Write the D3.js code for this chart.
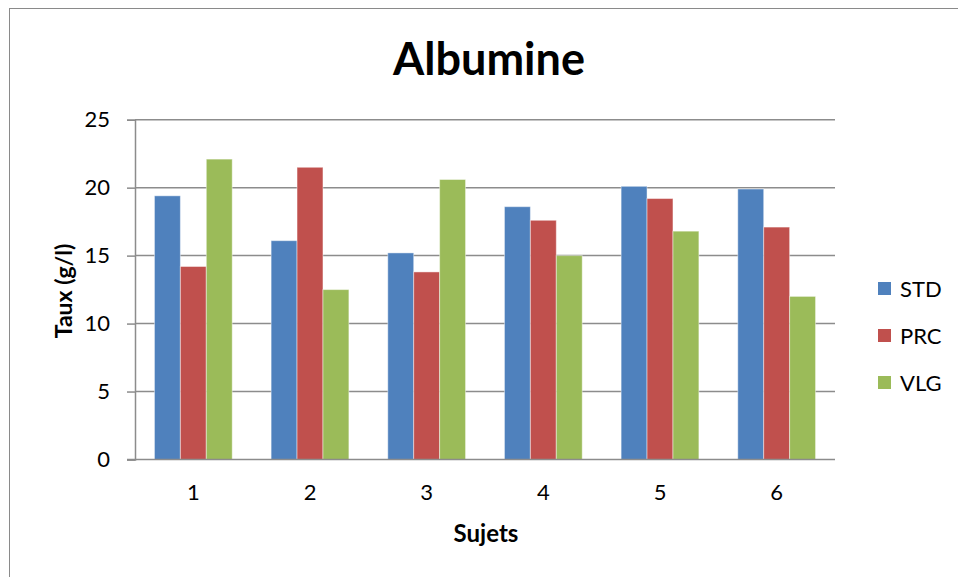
<!DOCTYPE html>
<html>
<head>
<meta charset="utf-8">
<script src="https://cdn.jsdelivr.net/npm/d3@7"></script>
<style>
  html, body { margin: 0; padding: 0; background: #fff; }
  svg { display: block; }
  text { font-family: Lato, "Open Sans", sans-serif; fill: #000; }
</style>
</head>
<body>
<svg id="chart" width="958" height="577"></svg>
<script>
// ---- data ----
const categories = ["1", "2", "3", "4", "5", "6"];
const seriesNames = ["STD", "PRC", "VLG"];
const STD = [19.4, 16.1, 15.2, 18.6, 20.1, 19.9];
const PRC = [14.2, 21.5, 13.8, 17.6, 19.2, 17.1];
const VLG = [22.1, 12.5, 20.6, 15.0, 16.8, 12.0];
const yTicks = [0, 5, 10, 15, 20, 25];
const title = "Albumine";
const xTitle = "Sujets";
const yTitle = "Taux (g/l)";

const seriesValues = { STD, PRC, VLG };
const colors = { STD: "#4F81BD", PRC: "#C0504D", VLG: "#9BBB59" };

const svg = d3.select("#chart");

// outer frame
svg.append("rect")
  .attr("x", 9.5).attr("y", 8.5)
  .attr("width", 1000).attr("height", 700)
  .attr("fill", "#fff").attr("stroke", "#8a8a8a").attr("stroke-width", 1);

const plot = { left: 135, right: 835, top: 119.7, bottom: 459.5 };

const x0 = d3.scaleBand().domain(categories).range([plot.left, plot.right]).padding(0);
const x1 = d3.scaleBand().domain(seriesNames).range([0, x0.bandwidth()])
  .paddingInner(0).paddingOuter(0.75);
const y = d3.scaleLinear().domain([0, 25]).range([plot.bottom, plot.top]);

// gridlines
svg.append("g").selectAll("line").data(yTicks.filter(d => d > 0)).join("line")
  .attr("x1", plot.left).attr("x2", plot.right)
  .attr("y1", d => y(d)).attr("y2", d => y(d))
  .attr("stroke", "#8c8c8c").attr("stroke-width", 1.5);

// bars
const groups = svg.append("g").selectAll("g").data(categories).join("g")
  .attr("transform", d => `translate(${x0(d)},0)`);
groups.selectAll("rect")
  .data((c, i) => seriesNames.map(s => ({ s, v: seriesValues[s][i] })))
  .join("rect")
  .attr("x", d => x1(d.s))
  .attr("width", x1.bandwidth())
  .attr("y", d => y(d.v))
  .attr("height", d => y(0) - y(d.v))
  .attr("fill", d => colors[d.s])
  .attr("stroke", "rgba(255,255,255,0.45)").attr("stroke-width", 1);

// y axis
const yAxis = d3.axisLeft(y).tickValues(yTicks).tickSize(8).tickPadding(17).tickFormat(d3.format("d"));
const gy = svg.append("g").attr("transform", `translate(${plot.left},0)`).call(yAxis);
gy.select(".domain").attr("stroke", "#8c8c8c").attr("stroke-width", 1.5);
gy.selectAll(".tick line").attr("stroke", "#8c8c8c").attr("stroke-width", 1.5);
gy.selectAll(".tick text").style("font-family", "Lato, sans-serif").style("font-size", "22px").attr("fill", "#000");

// x axis
const xAxis = d3.axisBottom(x0).tickSize(0).tickPadding(25);
const gx = svg.append("g").attr("transform", `translate(0,${plot.bottom})`).call(xAxis);
gx.select(".domain").attr("stroke", "#8c8c8c").attr("stroke-width", 1.5)
  .attr("d", `M${plot.left - 8},0H${plot.right}`);
gx.selectAll(".tick text").style("font-family", "Lato, sans-serif").style("font-size", "22px").attr("fill", "#000");

// title
svg.append("text").attr("x", 489).attr("y", 75)
  .attr("text-anchor", "middle")
  .style("font-size", "45px").style("font-weight", "bold")
  .text(title);

// axis titles
svg.append("text").attr("x", 486).attr("y", 542)
  .attr("text-anchor", "middle")
  .style("font-size", "24px").style("font-weight", "bold")
  .text(xTitle);
svg.append("text")
  .attr("transform", "translate(72,291) rotate(-90)")
  .attr("text-anchor", "middle")
  .style("font-size", "23px").style("font-weight", "bold")
  .text(yTitle);

// legend
const legend = svg.append("g").selectAll("g").data(seriesNames).join("g")
  .attr("transform", (d, i) => `translate(878,${288.5 + i * 47})`);
legend.append("rect").attr("x", 0).attr("y", -6.5).attr("width", 13).attr("height", 13)
  .attr("fill", d => colors[d]);
legend.append("text").attr("x", 22).attr("y", 8)
  .style("font-size", "22px").text(d => d);
</script>
</body>
</html>
